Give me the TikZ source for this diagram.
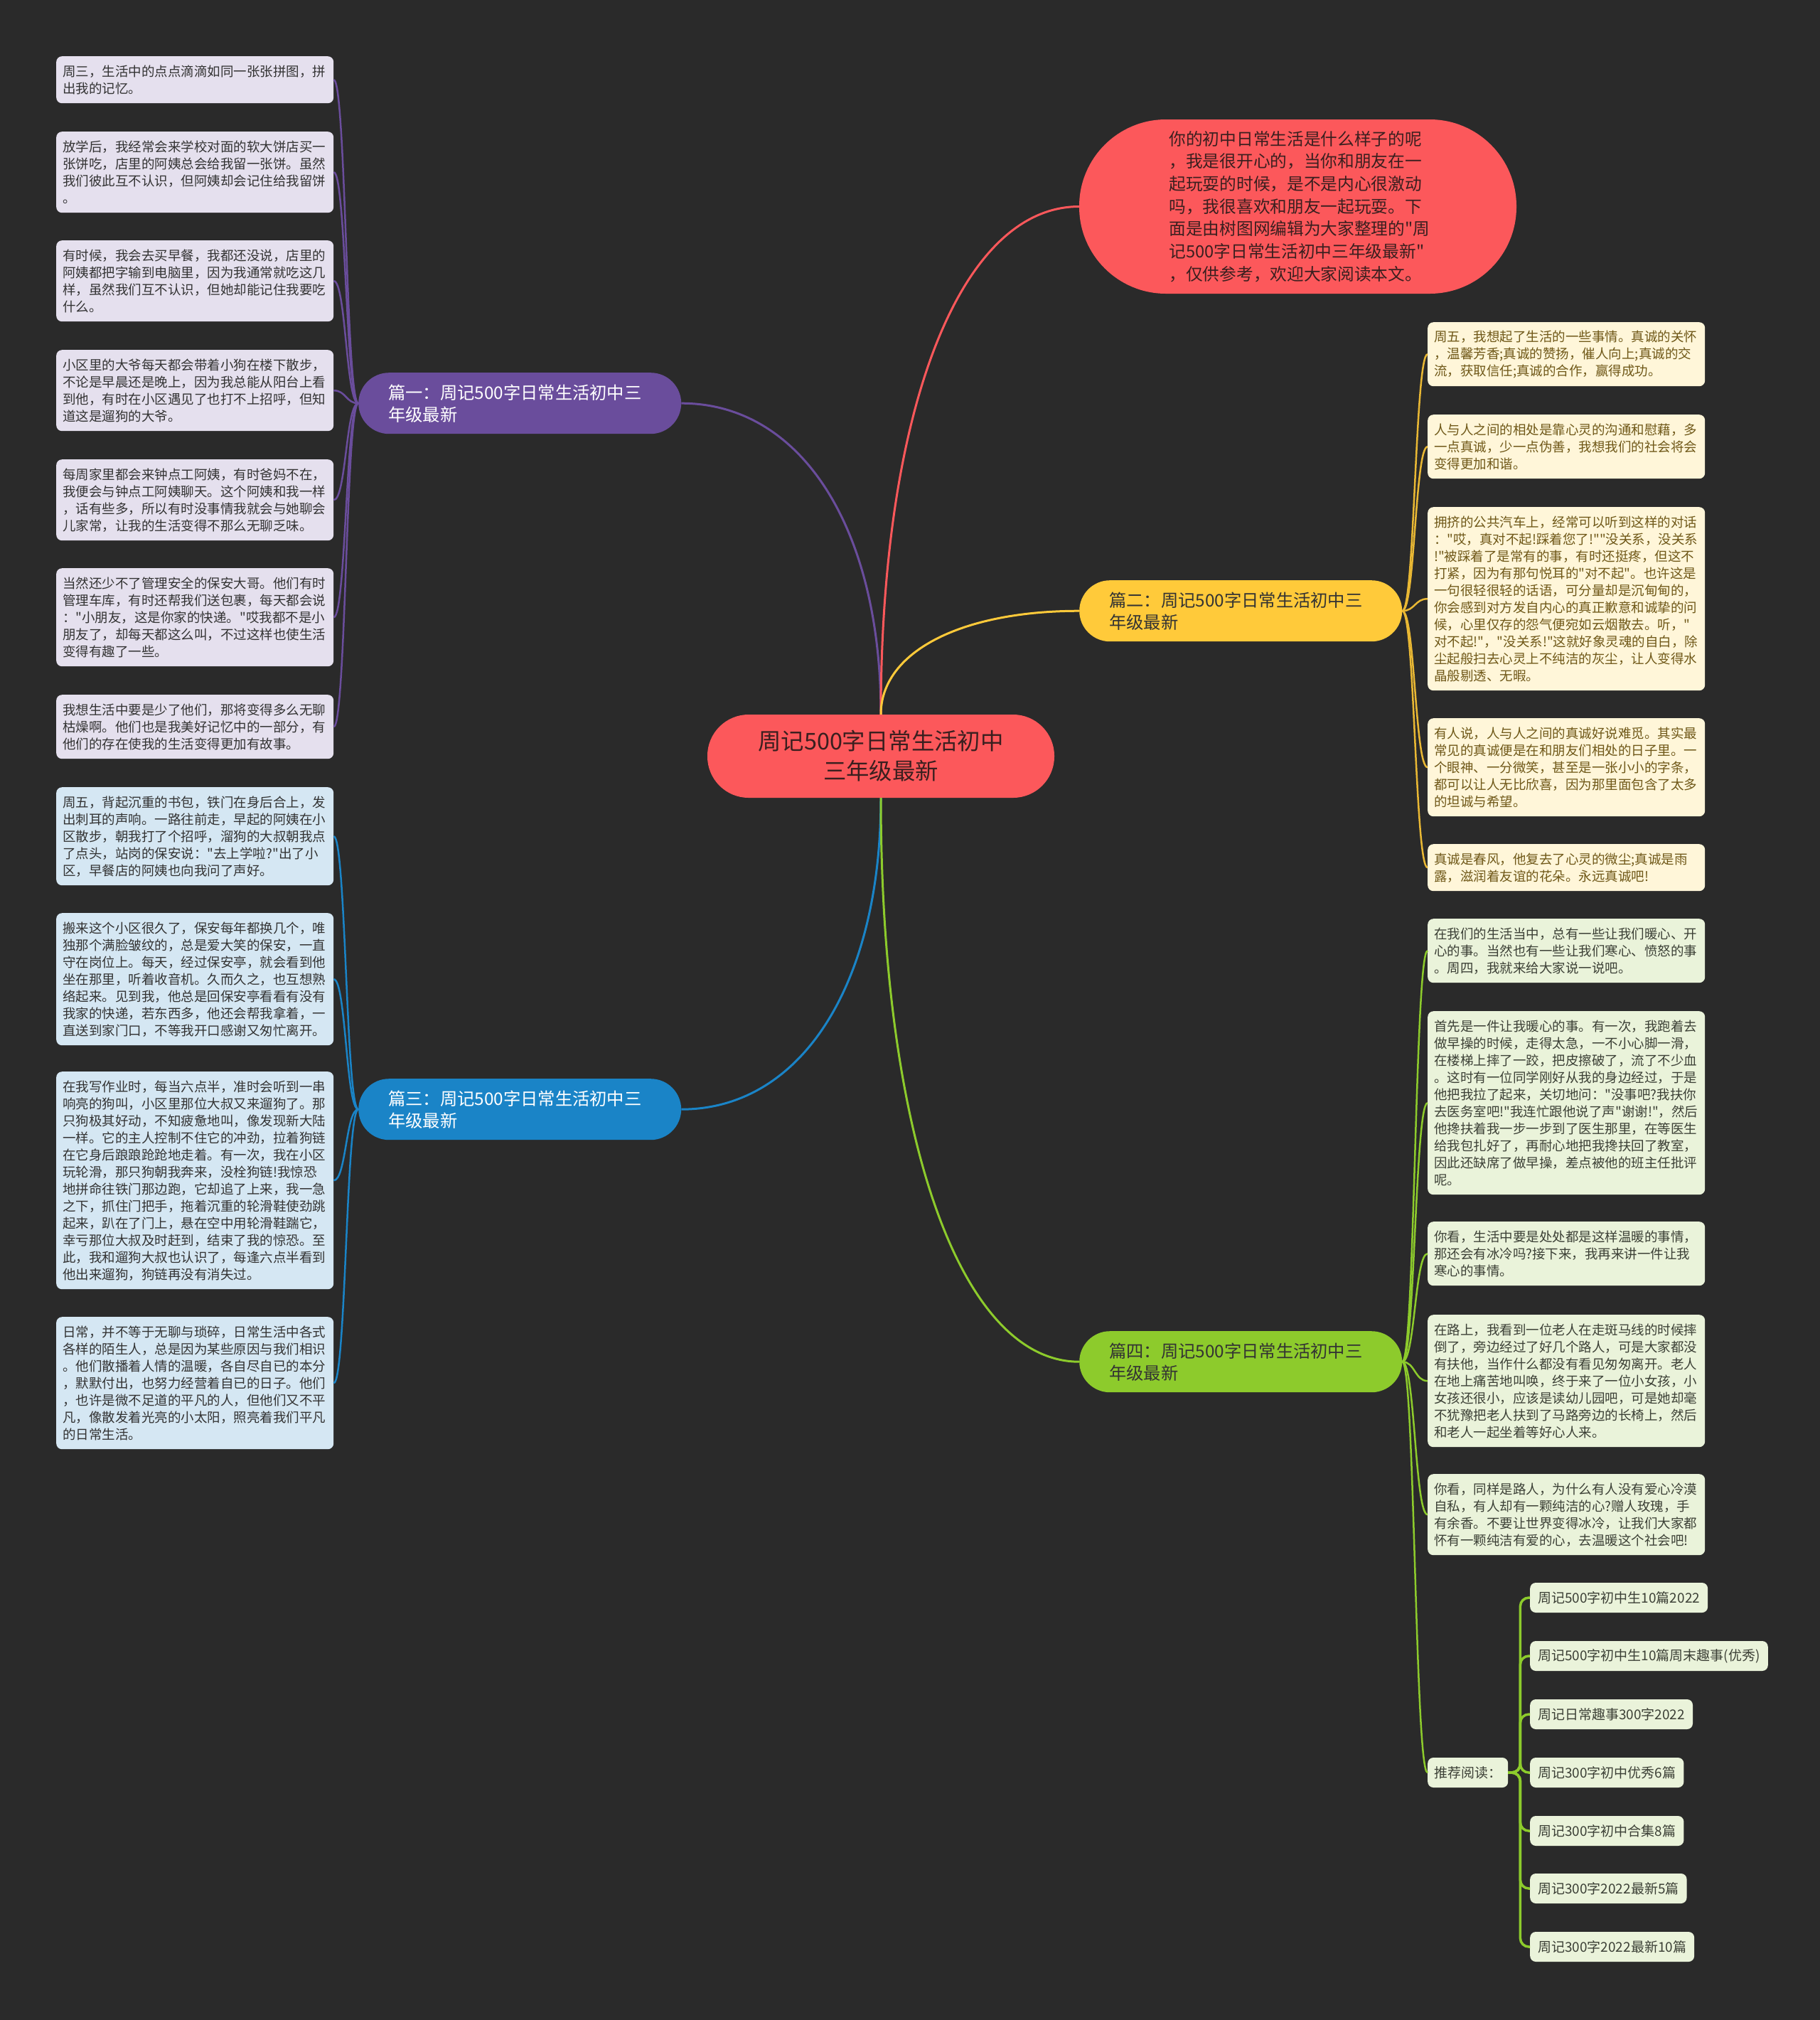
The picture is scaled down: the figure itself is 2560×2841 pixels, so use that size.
\documentclass[tikz,border=0pt]{standalone}
\usepackage{fontspec}
\setmainfont{Noto Sans CJK SC}[Ligatures=TeXOff]
\usetikzlibrary{calc}
\definecolor{bgc}{HTML}{2A2A2A}
\definecolor{redc}{HTML}{FC585B}
\definecolor{redtxt}{HTML}{3A1F1F}
\definecolor{pbr}{HTML}{6A4D9C}
\definecolor{pleafc}{HTML}{E5E0EE}
\definecolor{bbr}{HTML}{1A84C7}
\definecolor{bleafc}{HTML}{D5E7F3}
\definecolor{ybr}{HTML}{FFCA3A}
\definecolor{yline}{HTML}{E9B834}
\definecolor{yleafc}{HTML}{FFF6D9}
\definecolor{ytxt}{HTML}{6F5818}
\definecolor{gbr}{HTML}{8DCB2C}
\definecolor{gleafc}{HTML}{EAF3DA}
\definecolor{gtxt}{HTML}{3C4036}
\definecolor{darktxt}{HTML}{333333}
\tikzset{
  leafbase/.style={rectangle, rounded corners=8bp, text width=372bp, inner xsep=9bp, inner ysep=0bp,
    align=left, anchor=north west, font=\fontsize{18.5bp}{24bp}\selectfont},
  pleaf/.style={leafbase, fill=pleafc, text=darktxt},
  bleaf/.style={leafbase, fill=bleafc, text=darktxt},
  yleaf/.style={leafbase, fill=yleafc, text=ytxt},
  gleaf/.style={leafbase, fill=gleafc, text=gtxt},
  branch/.style={rectangle, rounded corners=43bp, minimum height=86bp, text width=370bp, inner xsep=42bp,
    inner ysep=0bp, align=left, anchor=north west, font=\fontsize{24.3bp}{31bp}\selectfont},
  recitem/.style={rectangle, rounded corners=8bp, fill=gleafc, text=gtxt, inner xsep=11bp, inner ysep=0bp,
    minimum height=42bp, anchor=west, font=\fontsize{19bp}{24bp}\selectfont},
  mainlink/.style={line width=3bp},
  leaflink/.style={line width=2.5bp},
}
\newcommand\bconn[3]{\draw[#1] (#2) .. controls ($(#2)!0.6!(#2|-#3)$) and ($(#3)!0.6!(#2|-#3)$) .. (#3);}
\newcommand\sconn[3]{\draw[#1] (#2) .. controls ($(#2)!0.5!(#3|-#2)$) and ($(#3)!0.5!(#2|-#3)$) .. (#3);}
\newcommand\leaf[5]{\node[#1, minimum height=#4bp] (#2) at (#3) {#5};}
\begin{document}
\begin{tikzpicture}[x=1bp,y=-1bp]
\fill[bgc] (0,0) rectangle (2560,2841);
\useasboundingbox (0,0) rectangle (2560,2841);

% center and main nodes
\node[rectangle, rounded corners=58bp, fill=redc, text=redtxt, minimum height=117bp, text width=400bp,
  inner xsep=44bp, inner ysep=0bp, align=center, font=\fontsize{32.4bp}{42bp}\selectfont]
  (c) at (1239,1063.5) {周记500字日常生活初中\\三年级最新};

\node[rectangle, rounded corners=122bp, fill=redc, text=redtxt, minimum height=245bp, text width=362bp,
  inner xsep=126.5bp, inner ysep=0bp, align=left, font=\fontsize{23.7bp}{31.7bp}\selectfont]
  (top) at (1825.5,290.5) {你的初中日常生活是什么样子的呢\\，我是很开心的，当你和朋友在一\\起玩耍的时候，是不是内心很激动\\吗，我很喜欢和朋友一起玩耍。下\\面是由树图网编辑为大家整理的"周\\记500字日常生活初中三年级最新"\\，仅供参考，欢迎大家阅读本文。};

\node[branch, fill=pbr, text=white] (p1) at (504,524) {篇一：周记500字日常生活初中三\\年级最新};
\node[branch, fill=ybr, text=darktxt] (p2) at (1518,816) {篇二：周记500字日常生活初中三\\年级最新};
\node[branch, fill=bbr, text=white] (p3) at (504,1517) {篇三：周记500字日常生活初中三\\年级最新};
\node[branch, fill=gbr, text=darktxt] (p4) at (1518,1872) {篇四：周记500字日常生活初中三\\年级最新};

% main connectors
\bconn{mainlink, draw=pbr}{c.north}{p1.east}
\bconn{mainlink, draw=redc}{c.north}{top.west}
\bconn{mainlink, draw=ybr}{c.north}{p2.west}
\bconn{mainlink, draw=bbr}{c.south}{p3.east}
\bconn{mainlink, draw=gbr}{c.south}{p4.west}

% purple leaves
\leaf{pleaf}{a1}{79,79}{66}{周三，生活中的点点滴滴如同一张张拼图，拼\\出我的记忆。}
\leaf{pleaf}{a2}{79,185}{114}{放学后，我经常会来学校对面的软大饼店买一\\张饼吃，店里的阿姨总会给我留一张饼。虽然\\我们彼此互不认识，但阿姨却会记住给我留饼\\。}
\leaf{pleaf}{a3}{79,338}{114}{有时候，我会去买早餐，我都还没说，店里的\\阿姨都把字输到电脑里，因为我通常就吃这几\\样，虽然我们互不认识，但她却能记住我要吃\\什么。}
\leaf{pleaf}{a4}{79,492}{114}{小区里的大爷每天都会带着小狗在楼下散步，\\不论是早晨还是晚上，因为我总能从阳台上看\\到他，有时在小区遇见了也打不上招呼，但知\\道这是遛狗的大爷。}
\leaf{pleaf}{a5}{79,646}{114}{每周家里都会来钟点工阿姨，有时爸妈不在，\\我便会与钟点工阿姨聊天。这个阿姨和我一样\\，话有些多，所以有时没事情我就会与她聊会\\儿家常，让我的生活变得不那么无聊乏味。}
\leaf{pleaf}{a6}{79,799}{138}{当然还少不了管理安全的保安大哥。他们有时\\管理车库，有时还帮我们送包裹，每天都会说\\："小朋友，这是你家的快递。"哎我都不是小\\朋友了，却每天都这么叫，不过这样也使生活\\变得有趣了一些。}
\leaf{pleaf}{a7}{79,977}{90}{我想生活中要是少了他们，那将变得多么无聊\\枯燥啊。他们也是我美好记忆中的一部分，有\\他们的存在使我的生活变得更加有故事。}
\foreach \n in {a1,a2,a3,a4,a5,a6,a7} {\sconn{leaflink, draw=pbr}{p1.west}{\n.east}}

% blue leaves
\leaf{bleaf}{b1}{79,1107}{138}{周五，背起沉重的书包，铁门在身后合上，发\\出刺耳的声响。一路往前走，早起的阿姨在小\\区散步，朝我打了个招呼，溜狗的大叔朝我点\\了点头，站岗的保安说："去上学啦?"出了小\\区，早餐店的阿姨也向我问了声好。}
\leaf{bleaf}{b2}{79,1284}{186}{搬来这个小区很久了，保安每年都换几个，唯\\独那个满脸皱纹的，总是爱大笑的保安，一直\\守在岗位上。每天，经过保安亭，就会看到他\\坐在那里，听着收音机。久而久之，也互想熟\\络起来。见到我，他总是回保安亭看看有没有\\我家的快递，若东西多，他还会帮我拿着，一\\直送到家门口，不等我开口感谢又匆忙离开。}
\leaf{bleaf}{b3}{79,1507}{306}{在我写作业时，每当六点半，准时会听到一串\\响亮的狗叫，小区里那位大叔又来遛狗了。那\\只狗极其好动，不知疲惫地叫，像发现新大陆\\一样。它的主人控制不住它的冲劲，拉着狗链\\在它身后踉踉跄跄地走着。有一次，我在小区\\玩轮滑，那只狗朝我奔来，没栓狗链!我惊恐\\地拼命往铁门那边跑，它却追了上来，我一急\\之下，抓住门把手，拖着沉重的轮滑鞋使劲跳\\起来，趴在了门上，悬在空中用轮滑鞋踹它，\\幸亏那位大叔及时赶到，结束了我的惊恐。至\\此，我和遛狗大叔也认识了，每逢六点半看到\\他出来遛狗，狗链再没有消失过。}
\leaf{bleaf}{b4}{79,1852}{186}{日常，并不等于无聊与琐碎，日常生活中各式\\各样的陌生人，总是因为某些原因与我们相识\\。他们散播着人情的温暖，各自尽自已的本分\\，默默付出，也努力经营着自已的日子。他们\\，也许是微不足道的平凡的人，但他们又不平\\凡，像散发着光亮的小太阳，照亮着我们平凡\\的日常生活。}
\foreach \n in {b1,b2,b3,b4} {\sconn{leaflink, draw=bbr}{p3.west}{\n.east}}

% yellow leaves
\leaf{yleaf}{y1}{2008,453}{90}{周五，我想起了生活的一些事情。真诚的关怀\\，温馨芳香;真诚的赞扬，催人向上;真诚的交\\流，获取信任;真诚的合作，赢得成功。}
\leaf{yleaf}{y2}{2008,583}{90}{人与人之间的相处是靠心灵的沟通和慰藉，多\\一点真诚，少一点伪善，我想我们的社会将会\\变得更加和谐。}
\leaf{yleaf}{y3}{2008,713}{258}{拥挤的公共汽车上，经常可以听到这样的对话\\："哎，真对不起!踩着您了!""没关系，没关系\\!"被踩着了是常有的事，有时还挺疼，但这不\\打紧，因为有那句悦耳的"对不起"。也许这是\\一句很轻很轻的话语，可分量却是沉甸甸的，\\你会感到对方发自内心的真正歉意和诚挚的问\\候，心里仅存的怨气便宛如云烟散去。听，"\\对不起!"，"没关系!"这就好象灵魂的自白，除\\尘起般扫去心灵上不纯洁的灰尘，让人变得水\\晶般剔透、无暇。}
\leaf{yleaf}{y4}{2008,1010}{138}{有人说，人与人之间的真诚好说难觅。其实最\\常见的真诚便是在和朋友们相处的日子里。一\\个眼神、一分微笑，甚至是一张小小的字条，\\都可以让人无比欣喜，因为那里面包含了太多\\的坦诚与希望。}
\leaf{yleaf}{y5}{2008,1187}{66}{真诚是春风，他复去了心灵的微尘;真诚是雨\\露，滋润着友谊的花朵。永远真诚吧!}
\foreach \n in {y1,y2,y3,y4,y5} {\sconn{leaflink, draw=yline}{p2.east}{\n.west}}

% green leaves
\leaf{gleaf}{g1}{2008,1292}{90}{在我们的生活当中，总有一些让我们暖心、开\\心的事。当然也有一些让我们寒心、愤怒的事\\。周四，我就来给大家说一说吧。}
\leaf{gleaf}{g2}{2008,1422}{258}{首先是一件让我暖心的事。有一次，我跑着去\\做早操的时候，走得太急，一不小心脚一滑，\\在楼梯上摔了一跤，把皮擦破了，流了不少血\\。这时有一位同学刚好从我的身边经过，于是\\他把我拉了起来，关切地问："没事吧?我扶你\\去医务室吧!"我连忙跟他说了声"谢谢!"，然后\\他搀扶着我一步一步到了医生那里，在等医生\\给我包扎好了，再耐心地把我搀扶回了教室，\\因此还缺席了做早操，差点被他的班主任批评\\呢。}
\leaf{gleaf}{g3}{2008,1718}{90}{你看，生活中要是处处都是这样温暖的事情，\\那还会有冰冷吗?接下来，我再来讲一件让我\\寒心的事情。}
\leaf{gleaf}{g4}{2008,1849}{186}{在路上，我看到一位老人在走斑马线的时候摔\\倒了，旁边经过了好几个路人，可是大家都没\\有扶他，当作什么都没有看见匆匆离开。老人\\在地上痛苦地叫唤，终于来了一位小女孩，小\\女孩还很小，应该是读幼儿园吧，可是她却毫\\不犹豫把老人扶到了马路旁边的长椅上，然后\\和老人一起坐着等好心人来。}
\leaf{gleaf}{g5}{2008,2073}{114}{你看，同样是路人，为什么有人没有爱心冷漠\\自私，有人却有一颗纯洁的心?赠人玫瑰，手\\有余香。不要让世界变得冰冷，让我们大家都\\怀有一颗纯洁有爱的心，去温暖这个社会吧!}
\node[recitem, inner xsep=9bp] (rec) at (2008,2493) {推荐阅读：};
\foreach \n in {g1,g2,g3,g4,g5,rec} {\sconn{leaflink, draw=gbr}{p4.east}{\n.west}}

% recommended reading
\node[recitem] (r1) at (2152,2247) {周记500字初中生10篇2022};
\node[recitem] (r2) at (2152,2329) {周记500字初中生10篇周末趣事(优秀)};
\node[recitem] (r3) at (2152,2411) {周记日常趣事300字2022};
\node[recitem] (r4) at (2152,2493) {周记300字初中优秀6篇};
\node[recitem] (r5) at (2152,2575) {周记300字初中合集8篇};
\node[recitem] (r6) at (2152,2656) {周记300字2022最新5篇};
\node[recitem] (r7) at (2152,2738) {周记300字2022最新10篇};
\foreach \n in {r1,r2,r3,r4,r5,r6,r7} {\draw[line width=3.5bp, draw=gbr, rounded corners=12bp] (rec.east) -- ++(17,0) |- (\n.west);}
\end{tikzpicture}
\end{document}
